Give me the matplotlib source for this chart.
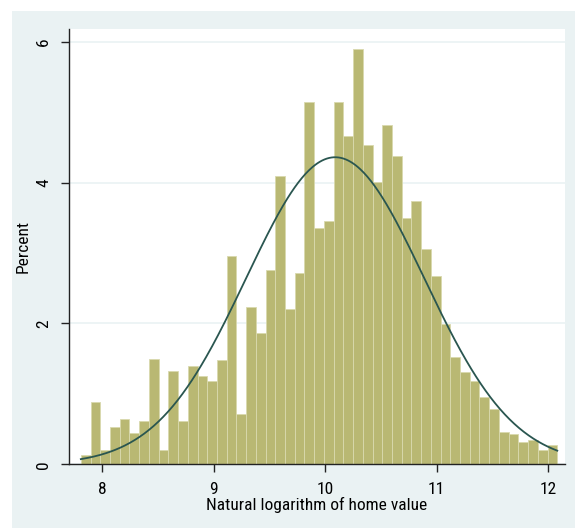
import numpy as np
import matplotlib
matplotlib.use("Agg")
import matplotlib.pyplot as plt
from matplotlib.patches import Rectangle

# histogram: 49 bins of ln(home value), heights in percent
bin_start = 7.809
bin_width = 0.0872
percent = [0.13, 0.88, 0.20, 0.53, 0.65, 0.45, 0.62, 1.49, 0.20, 1.33,
           0.61, 1.39, 1.25, 1.18, 1.48, 2.96, 0.72, 2.23, 1.86, 2.76,
           4.09, 2.20, 2.72, 5.15, 3.35, 3.46, 5.15, 4.66, 5.89, 4.53,
           4.01, 4.82, 4.38, 3.49, 3.74, 3.05, 2.68, 1.99, 1.53, 1.31,
           1.18, 0.95, 0.78, 0.46, 0.43, 0.32, 0.35, 0.21, 0.27]

# fitted normal overlay (mean / sd estimated from the curve)
norm_mean = 10.09
norm_sd = 0.798

xticks = [8, 9, 10, 11, 12]
yticks = [0, 2, 4, 6]

bg = "#EAF2F3"
bar_col = "#B9B873"
line_col = "#2A5650"

plt.rcParams['font.family'] = ['Roboto Condensed', 'Liberation Sans', 'DejaVu Sans']

fig = plt.figure(figsize=(5.75, 5.28), dpi=100)
fig.patch.set_facecolor("white")
fig.patches.append(Rectangle((12 / 575, 0), 1, 1 - 11 / 528, transform=fig.transFigure,
                             facecolor=bg, edgecolor="none", zorder=-10))

ax = fig.add_axes([69 / 575, 1 - 464.3 / 528, (565 - 69) / 575, (464.3 - 29) / 528])
ax.set_zorder(1)
ax.set_facecolor("white")

edges = bin_start + bin_width * np.arange(len(percent) + 1)
ax.bar(edges[:-1], percent, width=bin_width, align="edge", color=bar_col,
       edgecolor="#D9D9AE", linewidth=0.6, zorder=2)

xs = np.linspace(edges[0], edges[-1], 400)
dens = bin_width * 100 * np.exp(-0.5 * ((xs - norm_mean) / norm_sd) ** 2) / (norm_sd * np.sqrt(2 * np.pi))
ax.plot(xs, dens, color=line_col, linewidth=1.3, zorder=3)

ax.set_xlim(7.703, 12.151)
ax.set_ylim(0, 6.18)
ax.set_xticks(xticks)
ax.set_yticks(yticks)
ax.yaxis.grid(True, color=bg, linewidth=1.2, zorder=1)
ax.set_axisbelow(True)

for s in ["top", "right"]:
    ax.spines[s].set_visible(False)
for s in ["left", "bottom"]:
    ax.spines[s].set_linewidth(1.0)
    ax.spines[s].set_color("#222222")

ax.tick_params(axis="both", direction="out", length=6, width=1.0, color="#222222",
               labelsize=12.5, pad=7)
ax.tick_params(axis="y", labelrotation=90)
for lab in ax.get_yticklabels():
    lab.set_va("center")

ax.set_xlabel("Natural logarithm of home value", fontsize=12.5, labelpad=0)
ax.set_ylabel("Percent", fontsize=12.5, labelpad=4)

fig.savefig("out.png", dpi=100, facecolor=fig.get_facecolor())
